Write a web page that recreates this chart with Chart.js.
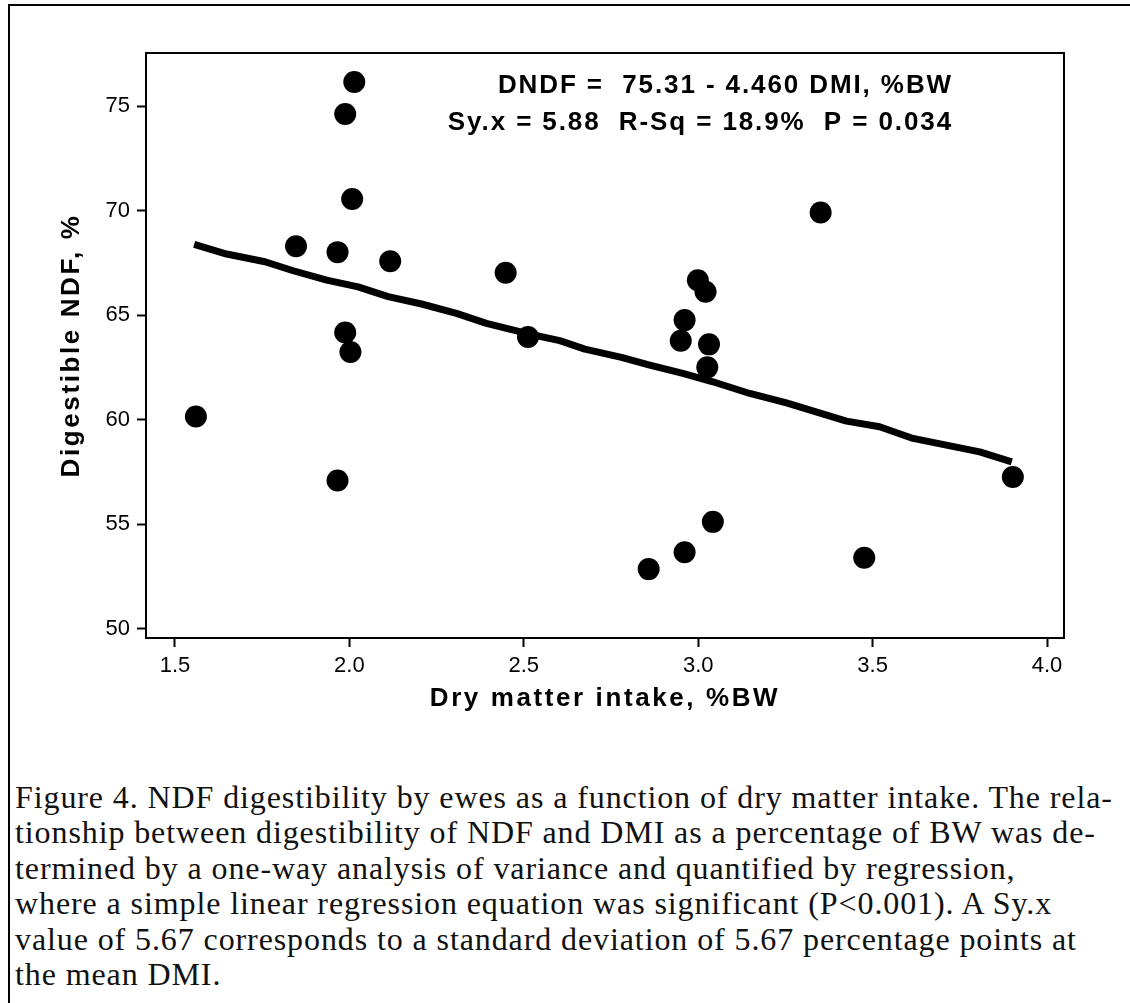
<!DOCTYPE html>
<html>
<head>
<meta charset="utf-8">
<script src="https://cdn.jsdelivr.net/npm/chart.js@4/dist/chart.umd.min.js"></script>
<style>
  html, body { margin: 0; padding: 0; background: #fff; }
  body { width: 1130px; height: 1003px; position: relative; overflow: hidden; }
  #frame {
    position: absolute; left: 8px; top: 4px; width: 1200px; height: 1100px;
    border-left: 2px solid #000; border-top: 2px solid #000;
  }
  #chartBox { position: absolute; left: 0; top: 0; width: 1130px; height: 740px; }
  #caption {
    position: absolute; left: 15px; top: 780px;
    font-family: "Liberation Serif", serif; font-size: 32px; line-height: 35.4px;
    letter-spacing: 0.9px; color: #111; white-space: nowrap;
  }
</style>
</head>
<body>
<div id="frame"></div>
<div id="chartBox"><canvas id="plot" width="1130" height="740"></canvas></div>
<div id="caption">
Figure 4. NDF digestibility by ewes as a function of dry matter intake. The rela-<br>
tionship between digestibility of NDF and DMI as a percentage of BW was de-<br>
termined by a one-way analysis of variance and quantified by regression,<br>
where a simple linear regression equation was significant (P&lt;0.001). A Sy.x<br>
value of 5.67 corresponds to a standard deviation of 5.67 percentage points at<br>
the mean DMI.
</div>
<script>
// Observed points (DMI %BW vs digestible NDF %)
const dmi = [2.014, 1.988, 2.008, 1.847, 1.966, 2.117, 2.448, 1.988, 2.003, 2.512, 1.560, 1.966,
             2.999, 3.021, 2.961, 2.950, 3.031, 3.026, 3.042, 2.961, 2.858, 3.351, 3.902, 3.476];
const ndf = [76.15, 74.62, 70.55, 68.29, 68.01, 67.57, 67.02, 64.17, 63.23, 63.95, 60.15, 57.09,
             66.67, 66.12, 64.76, 63.77, 63.60, 62.50, 55.11, 53.66, 52.85, 69.91, 57.26, 53.39];

// Fitted line, traced vertices
const fitX = [1.555, 1.648, 1.758, 1.839, 1.935, 2.025, 2.111, 2.207, 2.307, 2.393, 2.508, 2.603,
              2.675, 2.780, 2.861, 2.956, 3.042, 3.148, 3.253, 3.425, 3.520, 3.616, 3.807, 3.899];
const fitY = [68.38, 67.92, 67.55, 67.12, 66.67, 66.35, 65.88, 65.53, 65.08, 64.60, 64.12, 63.78,
              63.37, 62.98, 62.61, 62.21, 61.81, 61.25, 60.80, 59.93, 59.66, 59.10, 58.46, 57.98];

const xTicks = [1.5, 2.0, 2.5, 3.0, 3.5, 4.0];
const yTicks = [50, 55, 60, 65, 70, 75];

const eqLine1 = 'DNDF =  75.31 - 4.460 DMI, %BW';
const eqLine2 = 'Sy.x = 5.88  R-Sq = 18.9%  P = 0.034';

const sans = '"Liberation Sans", Arial, sans-serif';

// box round the plot area
const framePlugin = {
    id: 'frame',
    afterDraw(chart) {
        const a = chart.chartArea;
        const ctx = chart.ctx;
        ctx.save();
        ctx.strokeStyle = '#000';
        ctx.lineWidth = 2;
        ctx.strokeRect(a.left, a.top, a.right - a.left, a.bottom - a.top);
        ctx.restore();
    }
};

// the bold texts in the original are tracked out a bit
const spacedTitles = {
    id: 'spacedTitles',
    afterLayout(chart) {
        Object.values(chart.scales).forEach(s => {
            const orig = s.drawTitle;
            s.drawTitle = function() {
                this.ctx.save();
                this.ctx.letterSpacing = '2.6px';
                orig.call(this);
                this.ctx.restore();
            };
        });
    }
};

// regression text in the upper right
const equationPlugin = {
    id: 'equation',
    afterDatasetsDraw(chart) {
        const ctx = chart.ctx;
        ctx.save();
        ctx.fillStyle = '#000';
        ctx.font = 'bold 26px ' + sans;
        ctx.letterSpacing = '1.9px';
        ctx.textAlign = 'right';
        ctx.textBaseline = 'alphabetic';
        ctx.fillText(eqLine1, 953, 93);
        ctx.fillText(eqLine2, 953, 130);
        ctx.restore();
    }
};

const axisCommon = {
    border: { display: true, color: '#000', width: 2 },
    grid: { display: true, drawOnChartArea: false, drawTicks: true, tickLength: 9, tickWidth: 2, tickColor: '#000' },
    ticks: { color: '#000', padding: 6, font: { family: sans, size: 22 } }
};

new Chart(document.getElementById('plot'), {
    type: 'scatter',
    data: {
        datasets: [{
            label: 'Fit',
            type: 'line',
            data: fitX.map((x, i) => ({ x: x, y: fitY[i] })),
            borderColor: '#000',
            borderWidth: 7,
            borderCapStyle: 'butt',
            borderJoinStyle: 'round',
            pointRadius: 0,
            tension: 0,
            fill: false
        }, {
            label: 'Ewes',
            data: dmi.map((x, i) => ({ x: x, y: ndf[i] })),
            backgroundColor: '#000',
            borderColor: '#000',
            pointRadius: 11,
            borderWidth: 0
        }]
    },
    options: {
        responsive: false,
        animation: false,
        devicePixelRatio: 1,
        layout: { padding: { left: 0, right: 66, top: 53, bottom: 0 } },
        plugins: {
            legend: { display: false },
            tooltip: { enabled: false }
        },
        scales: {
            x: {
                type: 'linear',
                min: 1.4169,
                max: 4.0487,
                border: axisCommon.border,
                grid: axisCommon.grid,
                ticks: Object.assign({}, axisCommon.ticks, {
                    callback: v => v.toFixed(1)
                }),
                afterBuildTicks: s => { s.ticks = xTicks.map(v => ({ value: v })); },
                afterFit: s => { s.height = 102; },
                title: {
                    display: true,
                    text: 'Dry matter intake, %BW',
                    color: '#000',
                    font: { family: sans, size: 26, weight: 'bold' },
                    padding: { top: 0, bottom: 25.4 }
                }
            },
            y: {
                type: 'linear',
                min: 49.555,
                max: 77.535,
                border: axisCommon.border,
                grid: axisCommon.grid,
                ticks: Object.assign({}, axisCommon.ticks, {
                    padding: 7,
                    callback: v => String(v)
                }),
                afterBuildTicks: s => { s.ticks = yTicks.map(v => ({ value: v })); },
                afterFit: s => { s.width = 146; },
                title: {
                    display: true,
                    text: 'Digestible NDF, %',
                    color: '#000',
                    font: { family: sans, size: 26, weight: 'bold' },
                    padding: { top: 56.4, bottom: 0 }
                }
            }
        }
    },
    plugins: [framePlugin, spacedTitles, equationPlugin]
});
</script>
</body>
</html>
